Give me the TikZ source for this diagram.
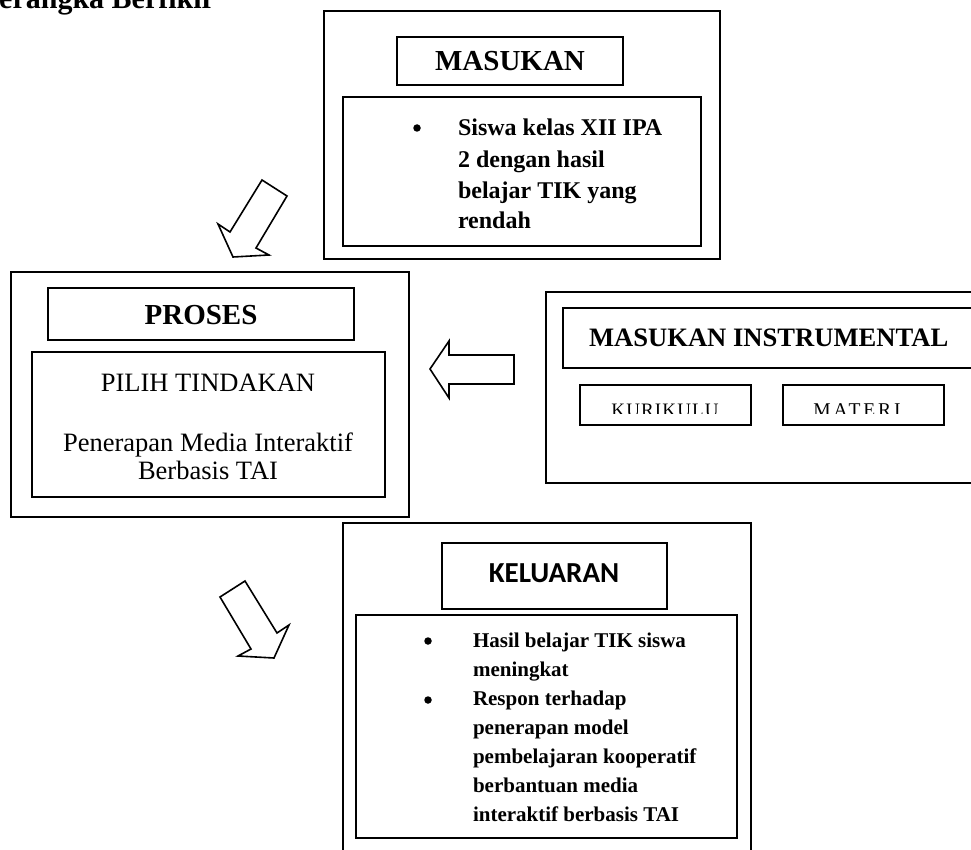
\documentclass[tikz,border=0pt]{standalone}
\usepackage{fontspec}
\setmainfont{Liberation Serif}
\newfontfamily\calibfont{Carlito}
\newfontfamily\spacedfont[LetterSpace=6]{Liberation Serif}
\newfontfamily\widefont[LetterSpace=15]{Liberation Serif}
\newcommand\mybox[5]{\node[frame, minimum width=#4pt, minimum height=#5pt] (#1) at (#2,#3) {};}
\begin{document}
\begin{tikzpicture}[x=1pt,y=-1pt,
  frame/.style={draw=black, line width=1.8pt, anchor=north west, inner sep=0pt, outer sep=0pt},
  blockarrow/.style={draw=black, line width=1.6pt, line join=miter, fill=white},
  txt/.style={inner sep=0pt, outer sep=0pt},
  hdr/.style={txt, font=\fontsize{29}{29}\selectfont\bfseries},
  bodyb/.style={txt, anchor=base west, font=\fontsize{24}{24}\selectfont\bfseries},
  bodyk/.style={txt, anchor=base west, font=\fontsize{21}{21}\selectfont\bfseries},
  bodyp/.style={txt, font=\fontsize{26.5}{26.5}\selectfont},
  small/.style={txt, anchor=base, font=\fontsize{19}{19}\selectfont\spacedfont},
  dot/.style={circle, fill=black, draw=none, inner sep=0pt, minimum size=7.5pt},
]
\useasboundingbox (0,0) rectangle (971,850);
\begin{scope}
\clip (0,0) rectangle (971,850);
% title (cut off at the top and left)
\node[txt, anchor=base east, font=\fontsize{30}{30}\selectfont\bfseries] (ttl) at (215,9) {Kerangka Berfikir};

% MASUKAN
\mybox{masout}{324}{11}{396}{248}
\mybox{mastitle}{397}{37}{226}{48}
\mybox{mascont}{343}{97}{358}{149}
\node[hdr] (tmas) at (510,61) {MASUKAN};
\node[dot] (bm1) at (417,128) {};
\node[bodyb] (m1) at (458,136) {Siswa kelas XII IPA};
\node[bodyb] (m2) at (458,168) {2 dengan hasil};
\node[bodyb] (m3) at (458,199) {belajar TIK yang};
\node[bodyb] (m4) at (458,229) {rendah};

% PROSES
\mybox{proout}{11}{272}{398}{245}
\mybox{protitle}{48}{288}{306}{52}
\mybox{procont}{32}{352}{353}{145}
\node[hdr] (tpro) at (201,315) {PROSES};
\node[bodyp] (p1) at (208,383) {PILIH TINDAKAN};
\node[bodyp, anchor=base] (p2) at (208,451) {Penerapan Media Interaktif};
\node[bodyp, anchor=base] (p3) at (208,479) {Berbasis TAI};

% MASUKAN INSTRUMENTAL
\mybox{insout}{546}{292}{440}{191}
\mybox{institle}{563}{308}{420}{60}
\mybox{kurbox}{580}{385}{171}{40}
\mybox{matbox}{783}{385}{161}{40}
\node[txt, anchor=west, font=\fontsize{26.6}{26.6}\selectfont\bfseries] (tins) at (589,338) {MASUKAN INSTRUMENTAL};
\begin{scope}
\clip (570,390) rectangle (950,413);
\node[small] (kur) at (665,416) {KURIKULU};
\node[small, font=\fontsize{19.5}{19.5}\selectfont\widefont] (mat) at (857,416) {MATERI};
\end{scope}

% KELUARAN
\mybox{kelout}{343}{523}{408}{340}
\mybox{keltitle}{442}{543}{225}{66}
\mybox{kelcont}{356}{615}{381}{223}
\node[txt, font=\fontsize{29}{29}\selectfont\calibfont\bfseries] (tkel) at (554,573) {KELUARAN};
\node[dot] (bk1) at (428,641) {};
\node[dot] (bk2) at (428,700) {};
\node[bodyk] (k1) at (473,647) {Hasil belajar TIK siswa};
\node[bodyk] (k2) at (473,676) {meningkat};
\node[bodyk] (k3) at (473,705) {Respon terhadap};
\node[bodyk] (k4) at (473,734) {penerapan model};
\node[bodyk] (k5) at (473,763) {pembelajaran kooperatif};
\node[bodyk] (k6) at (473,792) {berbantuan media};
\node[bodyk] (k7) at (473,821) {interaktif berbasis TAI};

% block arrows
\draw[blockarrow] (262,180) -- (287,196) -- (256,248) -- (269,255) -- (233,257) -- (218,224) -- (230,232) -- cycle;
\draw[blockarrow] (245,581) -- (220,597) -- (251,649) -- (238,656) -- (274,658) -- (289,625) -- (277,633) -- cycle;
\draw[blockarrow] (430,369) -- (449,341) -- (449,355) -- (514,355) -- (514,384) -- (449,384) -- (449,398) -- cycle;
\end{scope}
\end{tikzpicture}
\end{document}
